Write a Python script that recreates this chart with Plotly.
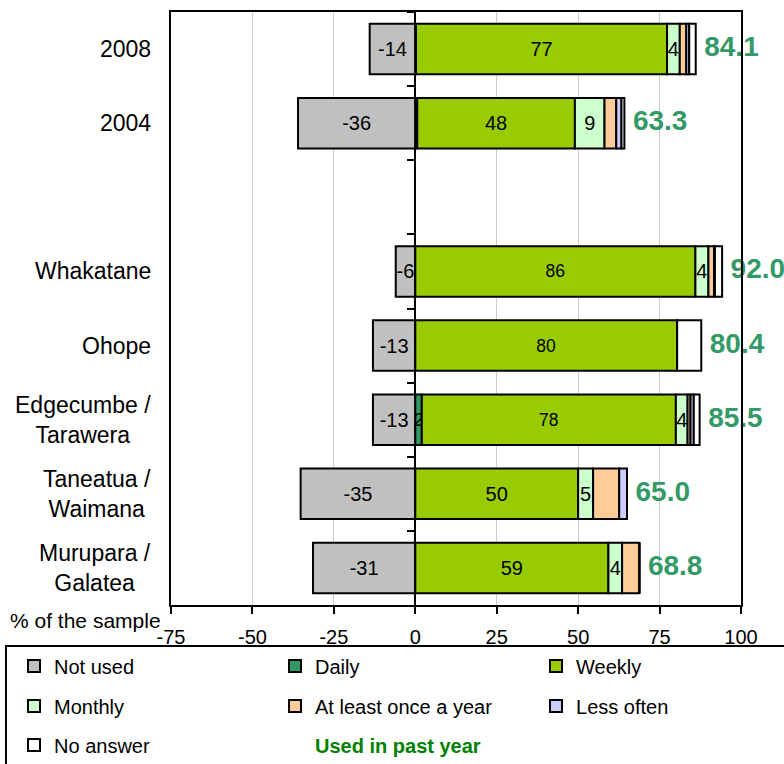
import plotly.graph_objects as go

# ---------------- data ----------------
categories = ["2008", "2004", " ", "Whakatane", "Ohope",
              "Edgecumbe /<br>Tarawera", "Taneatua /<br>Waimana", "Murupara /<br>Galatea"]
not_used   = [-14.0, -36.0, None, -6.0, -13.0, -13.0, -35.2, -31.4]
daily      = [0.2, 0.6, None, 0.0, 0.0, 2.0, 0.0, 0.0]
weekly     = [77.1, 48.4, None, 86.0, 80.4, 78.0, 50.0, 59.3]
monthly    = [3.9, 9.1, None, 4.0, 0.0, 3.6, 4.6, 4.2]
yearly     = [2.0, 3.6, None, 1.7, 0.0, 0.9, 8.0, 5.3]
less_often = [0.9, 1.6, None, 0.3, 0.0, 1.0, 2.4, 0.0]
no_answer  = [2.0, 0.9, None, 2.2, 7.4, 1.8, 0.0, 0.0]
used_past_year = [84.1, 63.3, None, 92.0, 80.4, 85.5, 65.0, 68.8]
x_ticks = [-75, -50, -25, 0, 25, 50, 75, 100]

FONT = "Liberation Sans, Arial, sans-serif"

def labels(vals, minimum):
    out = []
    for v in vals:
        if v is None or abs(v) < minimum:
            out.append("")
        else:
            out.append(f"{v:.0f}")
    return out

weekly_sizes = [20, 20, 20, 17.5, 17.5, 17.5, 20, 20]

series = [
    ("Not used", not_used, "#C0C0C0", labels(not_used, 0.5), 20, "legend"),
    ("Daily", daily, "#339966", labels(daily, 1.5), 17.5, "legend"),
    ("Weekly", weekly, "#99CC00", labels(weekly, 0.5), weekly_sizes, "legend"),
    ("Monthly", monthly, "#CCFFCC", labels(monthly, 3.0), 20, "legend2"),
    ("At least once a year", yearly, "#FFCC99", labels(yearly, 100), 20, "legend2"),
    ("Less often", less_often, "#CCCCFF", labels(less_often, 100), 20, "legend2"),
    ("No answer", no_answer, "#FFFFFF", labels(no_answer, 100), 20, "legend3"),
]

fig = go.Figure()
for name, vals, color, txt, tsize, leg in series:
    last_in_row = name in ("Weekly", "Less often")
    fig.add_trace(go.Bar(
        name=name, y=categories, x=vals, orientation="h",
        marker=dict(color=color, line=dict(color="black", width=2)),
        text=txt, textposition="inside", insidetextanchor="middle",
        textangle=0, constraintext="none",
        textfont=dict(color="black", size=tsize, family=FONT),
        legend=leg, legendwidth=None if last_in_row else 216,
        hoverinfo="skip",
    ))

# totals ("Used in past year") placed at the end of each stacked bar
bar_end = []
for u, na in zip(used_past_year, no_answer):
    bar_end.append(None if u is None else u + na)
fig.add_trace(go.Scatter(
    x=bar_end, y=categories, mode="markers+text",
    marker=dict(size=12, color="rgba(0,0,0,0)"),
    text=[("" if u is None else f"{u:.1f}") for u in used_past_year],
    textposition="middle right",
    textfont=dict(color="#339966", size=28, family=FONT, weight="bold"),
    cliponaxis=False, showlegend=False, hoverinfo="skip",
))
# legend entry for the totals
fig.add_trace(go.Scatter(
    x=[None], y=[None], mode="markers",
    marker=dict(color="rgba(0,0,0,0)", size=1),
    name='<span style="color:#008000"><b>Used in past year</b></span>',
    legend="legend3", hoverinfo="skip",
))
# invisible trace for the category tick marks on the zero axis
fig.add_trace(go.Scatter(
    x=[0] * len(categories), y=categories, yaxis="y2", mode="markers",
    marker=dict(opacity=0), showlegend=False, hoverinfo="skip",
))

rng = [len(categories) - 0.5, -0.5]
leg_common = dict(orientation="h", xanchor="left", yanchor="middle", x=-0.2754,
                  traceorder="normal", bgcolor="rgba(0,0,0,0)", borderwidth=0,
                  font=dict(size=20, family=FONT, color="black"))

annotations = []
for i, c in enumerate(categories):
    if c.strip():
        annotations.append(dict(
            x=-0.032, xref="paper", y=i, yref="y", text=c, showarrow=False,
            xanchor="right", yanchor="middle", align="center",
            font=dict(size=23, family=FONT, color="black")))
annotations.append(dict(
    x=-0.2860, xref="paper", y=-0.0253, yref="paper", text="% of the sample",
    showarrow=False, xanchor="left", yanchor="middle",
    font=dict(size=21, family=FONT, color="black")))

fig.update_layout(
    width=784, height=764,
    margin=dict(l=171, r=43, t=12, b=159, autoexpand=False),
    paper_bgcolor="white", plot_bgcolor="white",
    barmode="relative", bargap=0.32,
    font=dict(family=FONT, color="black"),
    xaxis=dict(range=[-75, 100], tickvals=x_ticks, ticktext=[str(v) for v in x_ticks],
               ticks="outside", ticklen=7, ticklabelstandoff=6,
               tickwidth=2, tickcolor="black", showline=True, linecolor="black",
               linewidth=2, mirror=True, showgrid=True, gridcolor="#cccccc",
               gridwidth=1, zeroline=True, zerolinecolor="black", zerolinewidth=2,
               tickfont=dict(size=20, family=FONT, color="black")),
    yaxis=dict(type="category", categoryorder="array", categoryarray=categories,
               range=rng, showticklabels=False, ticks="", showline=True,
               linecolor="black", linewidth=2, mirror=True, showgrid=False,
               zeroline=False),
    yaxis2=dict(type="category", categoryorder="array", categoryarray=categories,
                range=rng, overlaying="y", anchor="free", position=75 / 175,
                side="left", ticks="outside", ticklen=8, tickwidth=2,
                tickcolor="black", tickson="boundaries", showticklabels=False,
                showline=False, showgrid=False, zeroline=False),
    legend=dict(y=-0.1029, **leg_common),
    legend2=dict(y=-0.1703, **leg_common),
    legend3=dict(y=-0.2361, **leg_common),
    annotations=annotations,
    shapes=[dict(type="rect", xref="paper", yref="paper", x0=-0.2895, x1=1.1,
                 y0=-0.0691, y1=-0.35, line=dict(color="black", width=2))],
)

fig.write_html("out.html",
               config={"displayModeBar": False},
               post_script="document.body.style.margin='0px';"
                           "document.body.style.overflow='hidden';")
